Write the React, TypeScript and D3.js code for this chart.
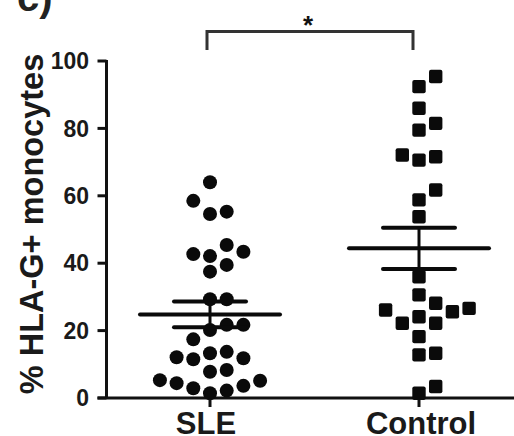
import React, { useEffect, useRef } from 'react';
import * as d3 from 'd3';

// values (% HLA-G+ monocytes)
const groups = ['SLE', 'Control'];
const sleValues = [64, 58.5, 55.3, 54.6, 45.4, 43.4, 42.7, 42.1, 39.5, 37.5, 29.3, 29.3, 21.7, 21.7, 20.2, 17.4,
  13.7, 13.3, 12.1, 11.8, 11.5, 8.3, 7.8, 5.3, 5.1, 4.4, 3.6, 2.9, 2.2, 1.4];
const controlValues = [95.4, 92.4, 86, 81.5, 79.5, 72.1, 71.6, 70.6, 61.7, 58.8, 53.8, 36, 30.6, 28.1, 26.6, 26.1,
  25.6, 24.1, 22.2, 22.2, 18.2, 13.3, 12.8, 3.4, 1.4];
const means = [24.8, 44.4];
const sems = [3.8, 6.1];
const yTicks = [0, 20, 40, 60, 80, 100];

const FONT = '"Liberation Sans", Arial, sans-serif';

// simple column beeswarm: try centre, then right/left alternately
function swarm(values: number[], y: (v: number) => number, minGap: number) {
  const placed: { v: number; col: number }[] = [];
  const sorted = [...values].sort((a, b) => a - b);
  sorted.forEach(v => {
    for (let k = 0; k < 20; k++) {
      const col = k === 0 ? 0 : (k % 2 ? (k + 1) / 2 : -k / 2);
      if (!placed.some(p => p.col === col && Math.abs(y(p.v) - y(v)) < minGap)) {
        placed.push({ v, col });
        break;
      }
    }
  });
  return placed;
}

export default function App() {
  const ref = useRef<SVGSVGElement>(null);

  useEffect(() => {
    const width = 514;
    const height = 436;
    const svg = d3.select(ref.current).attr('width', width).attr('height', height);
    svg.selectAll('*').remove();

    const yScale = d3.scaleLinear().domain([0, 100]).range([398, 61]);
    const xScale = d3.scalePoint().domain(groups).range([210, 419]);
    const colStep = 16.7;
    const axisX = 106.5;

    const g = svg.append('g').style('font-family', FONT).style('font-weight', 'bold');

    // panel letter, mostly cut off at the top
    g.append('text').attr('x', 17).attr('y', 11).attr('font-size', 40).attr('fill', '#222').text('c)');

    // y axis
    g.append('line').attr('x1', axisX).attr('x2', axisX).attr('y1', yScale(100) - 1).attr('y2', yScale(0))
      .attr('stroke', '#111').attr('stroke-width', 3);
    const yt = g.selectAll('.ytick').data(yTicks).join('g').attr('class', 'ytick')
      .attr('transform', d => `translate(0,${yScale(d)})`);
    yt.append('line').attr('x1', axisX - 9).attr('x2', axisX).attr('stroke', '#111').attr('stroke-width', 3);
    yt.append('text').attr('x', 89).attr('dy', '0.36em').attr('text-anchor', 'end')
      .attr('font-size', 23).attr('fill', '#1a1a1a').text(d => d);

    // x axis
    g.append('line').attr('x1', axisX - 9).attr('x2', width).attr('y1', yScale(0)).attr('y2', yScale(0))
      .attr('stroke', '#111').attr('stroke-width', 3);
    groups.forEach(c => {
      g.append('line').attr('x1', xScale(c)).attr('x2', xScale(c)).attr('y1', yScale(0)).attr('y2', yScale(0) + 9)
        .attr('stroke', '#111').attr('stroke-width', 3);
      g.append('text').attr('x', xScale(c)! - (c === 'SLE' ? 4 : -2)).attr('y', 434).attr('text-anchor', 'middle')
        .attr('font-size', 31).attr('fill', '#1a1a1a').text(c);
    });

    // y axis title
    g.append('text').attr('transform', `translate(43,224) rotate(-90)`).attr('text-anchor', 'middle')
      .attr('font-size', 32.5).attr('fill', '#1a1a1a').text('% HLA-G+ monocytes');

    // points
    const slePts = swarm(sleValues, yScale, 15);
    g.selectAll('.sle').data(slePts).join('circle').attr('class', 'sle')
      .attr('cx', d => xScale('SLE')! + d.col * colStep).attr('cy', d => yScale(d.v)).attr('r', 7)
      .attr('fill', '#0a0a0a');
    const ctlPts = swarm(controlValues, yScale, 15);
    g.selectAll('.ctl').data(ctlPts).join('rect').attr('class', 'ctl')
      .attr('x', d => xScale('Control')! + d.col * colStep - 6.7).attr('y', d => yScale(d.v) - 6.7)
      .attr('width', 13.4).attr('height', 13.4).attr('rx', 2).attr('fill', '#0a0a0a');

    // mean +- SEM
    groups.forEach((c, i) => {
      const cx = xScale(c)!;
      const m = means[i];
      const s = sems[i];
      g.append('line').attr('x1', cx - 70).attr('x2', cx + 70).attr('y1', yScale(m)).attr('y2', yScale(m))
        .attr('stroke', '#0a0a0a').attr('stroke-width', 4).attr('stroke-linecap', 'round');
      [m - s, m + s].forEach(v => {
        g.append('line').attr('x1', cx - 36).attr('x2', cx + 36).attr('y1', yScale(v)).attr('y2', yScale(v))
          .attr('stroke', '#0a0a0a').attr('stroke-width', 4).attr('stroke-linecap', 'round');
      });
      g.append('line').attr('x1', cx).attr('x2', cx).attr('y1', yScale(m + s)).attr('y2', yScale(m - s))
        .attr('stroke', '#0a0a0a').attr('stroke-width', 3);
    });

    // significance bracket
    const bx1 = xScale('SLE')! - 3;
    const bx2 = xScale('Control')! - 6;
    g.append('path').attr('d', `M${bx1},50 V31.5 H${bx2} V50`).attr('fill', 'none')
      .attr('stroke', '#333').attr('stroke-width', 3);
    g.append('text').attr('x', (bx1 + bx2) / 2 - 2).attr('y', 34).attr('text-anchor', 'middle')
      .attr('font-size', 26).attr('fill', '#111').text('*');
  }, []);

  return (
    <svg ref={ref} style={{ position: 'absolute', left: 0, top: 0, background: '#fff' }}></svg>
  );
}
